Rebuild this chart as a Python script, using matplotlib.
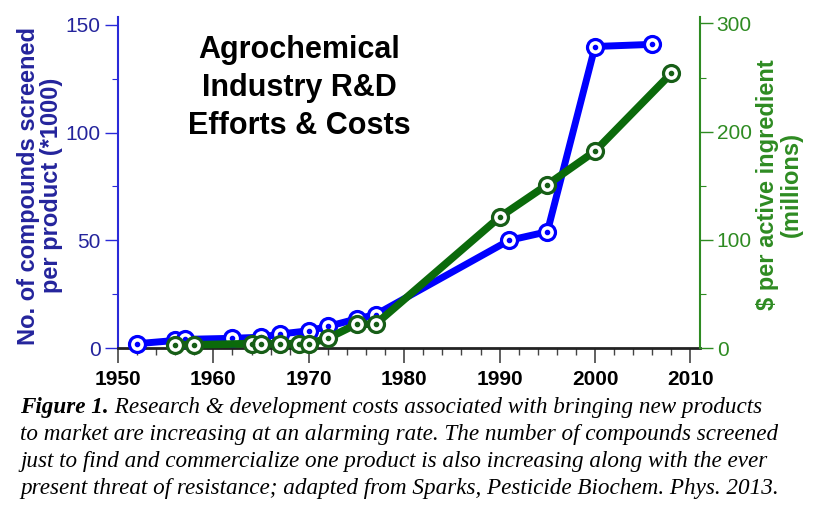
import numpy as np
import matplotlib.pyplot as plt
from matplotlib.ticker import MultipleLocator

# --- data ---
years_compounds = [1952, 1956, 1957, 1962, 1965, 1967, 1970, 1972, 1975, 1977, 1991, 1995, 2000, 2006]
compounds = [2, 3.5, 4, 4.5, 5, 6.5, 8, 10, 13.5, 15.5, 50, 54, 140, 141]   # *1000 per product

years_cost = [1956, 1958, 1964, 1965, 1967, 1969, 1970, 1972, 1975, 1977, 1990, 1995, 2000, 2008]
cost = [3, 3, 4, 4, 4, 4, 4, 9, 22, 22, 121, 151, 182, 254]   # $ millions

title_text = "Agrochemical\nIndustry R&D\nEfforts & Costs"
left_label = "No. of compounds screened\nper product (*1000)"
right_label = "$ per active ingredient\n(millions)"

caption_bold = "Figure 1."
caption_lines = [
    " Research & development costs associated with bringing new products",
    "to market are increasing at an alarming rate. The number of compounds screened",
    "just to find and commercialize one product is also increasing along with the ever",
    "present threat of resistance; adapted from Sparks, Pesticide Biochem. Phys. 2013.",
]

# --- colours ---
BLUE = "#0000ff"
BLUE_DARK = "#24249c"
BLUE_SPINE = "#2a2ad8"
GREEN = "#0b6a0b"
GREEN_EDGE = "#175e17"
GREEN_AXIS = "#2e8b22"

plt.rcParams['font.family'] = ['Liberation Sans', 'DejaVu Sans']

W, H = 815, 515
fig = plt.figure(figsize=(W / 100, H / 100), dpi=100)
ax = fig.add_axes([118 / W, 1 - 348 / H, 582 / W, 331 / H])
ax2 = ax.twinx()

# blue series (left axis)
ax.plot(years_compounds, compounds, color=BLUE, lw=5, marker='o', ms=11.5,
        mfc='white', mec=BLUE, mew=2.3, clip_on=False, zorder=3)
ax.plot(years_compounds, compounds, ls='none', marker='o', ms=3,
        color=BLUE, clip_on=False, zorder=4)

# green series (right axis)
ax2.plot(years_cost, cost, color=GREEN, lw=5.5, marker='o', ms=11.5,
         mfc='white', mec=GREEN_EDGE, mew=2.3, clip_on=False, zorder=3)
ax2.plot(years_cost, cost, ls='none', marker='o', ms=3,
         color=GREEN_EDGE, clip_on=False, zorder=4)

ax.set_xlim(1950, 2011)
ax.set_ylim(0, 153.7)
ax2.set_ylim(0, 306)

ax.xaxis.set_major_locator(MultipleLocator(10))
ax.xaxis.set_minor_locator(MultipleLocator(2))
ax.yaxis.set_major_locator(MultipleLocator(50))
ax.yaxis.set_minor_locator(MultipleLocator(25))
ax2.yaxis.set_major_locator(MultipleLocator(100))
ax2.yaxis.set_minor_locator(MultipleLocator(50))

for a in (ax, ax2):
    a.spines['top'].set_visible(False)
ax.spines['right'].set_visible(False)
ax2.spines['left'].set_visible(False)
ax2.spines['bottom'].set_visible(False)

ax.spines['bottom'].set_color('#222222')
ax.spines['bottom'].set_linewidth(2)
ax.spines['left'].set_color(BLUE_SPINE)
ax.spines['left'].set_linewidth(1.5)
ax2.spines['right'].set_color(GREEN_AXIS)
ax2.spines['right'].set_linewidth(1.5)

ax.tick_params(axis='x', which='major', direction='out', length=11, width=1.2,
               color='#444444', pad=5, labelsize=15)
ax.tick_params(axis='x', which='minor', direction='out', length=5, width=1.0,
               color='#444444')
for lab in ax.get_xticklabels():
    lab.set_fontweight('bold')

ax.tick_params(axis='y', which='major', direction='out', length=9.5, width=1.0,
               color=BLUE_SPINE, labelcolor=BLUE_DARK, pad=3, labelsize=15)
ax.tick_params(axis='y', which='minor', direction='out', length=4, width=0.8,
               color=BLUE_SPINE)
ax2.tick_params(axis='y', which='major', direction='out', length=9, width=1.0,
                color=GREEN_AXIS, labelcolor=GREEN_AXIS, pad=3, labelsize=15)
ax2.tick_params(axis='y', which='minor', direction='out', length=4, width=0.8,
                color=GREEN_AXIS)

ax.set_ylabel(left_label, color=BLUE_DARK, fontsize=17, fontweight='bold',
              linespacing=1.05, va='center', ha='center')
ax.yaxis.set_label_coords(-0.134, 0.49)
ax2.set_ylabel(right_label, color=GREEN_AXIS, fontsize=17, fontweight='bold',
               linespacing=1.05, rotation=90, va='center', ha='center')
ax2.yaxis.set_label_coords(1.137, 0.495)

fig.text(299 / W, 1 - 88 / H, title_text, fontsize=22, fontweight='bold',
         ha='center', va='center', linespacing=1.35)

# caption
serif = ['Liberation Serif', 'DejaVu Serif']
cap_size = 16.7
baselines = [413, 440, 467, 494]
t1 = fig.text(20 / W, 1 - baselines[0] / H, caption_bold, family=serif,
              fontsize=cap_size, fontweight='bold', style='italic', va='baseline')
fig.canvas.draw()
ext = t1.get_window_extent()
fig.text(ext.x1 / W, 1 - baselines[0] / H, caption_lines[0], family=serif,
         fontsize=cap_size, style='italic', va='baseline')
for line, b in zip(caption_lines[1:], baselines[1:]):
    fig.text(20 / W, 1 - b / H, line, family=serif, fontsize=cap_size,
             style='italic', va='baseline')

fig.savefig('out.png', dpi=100)
